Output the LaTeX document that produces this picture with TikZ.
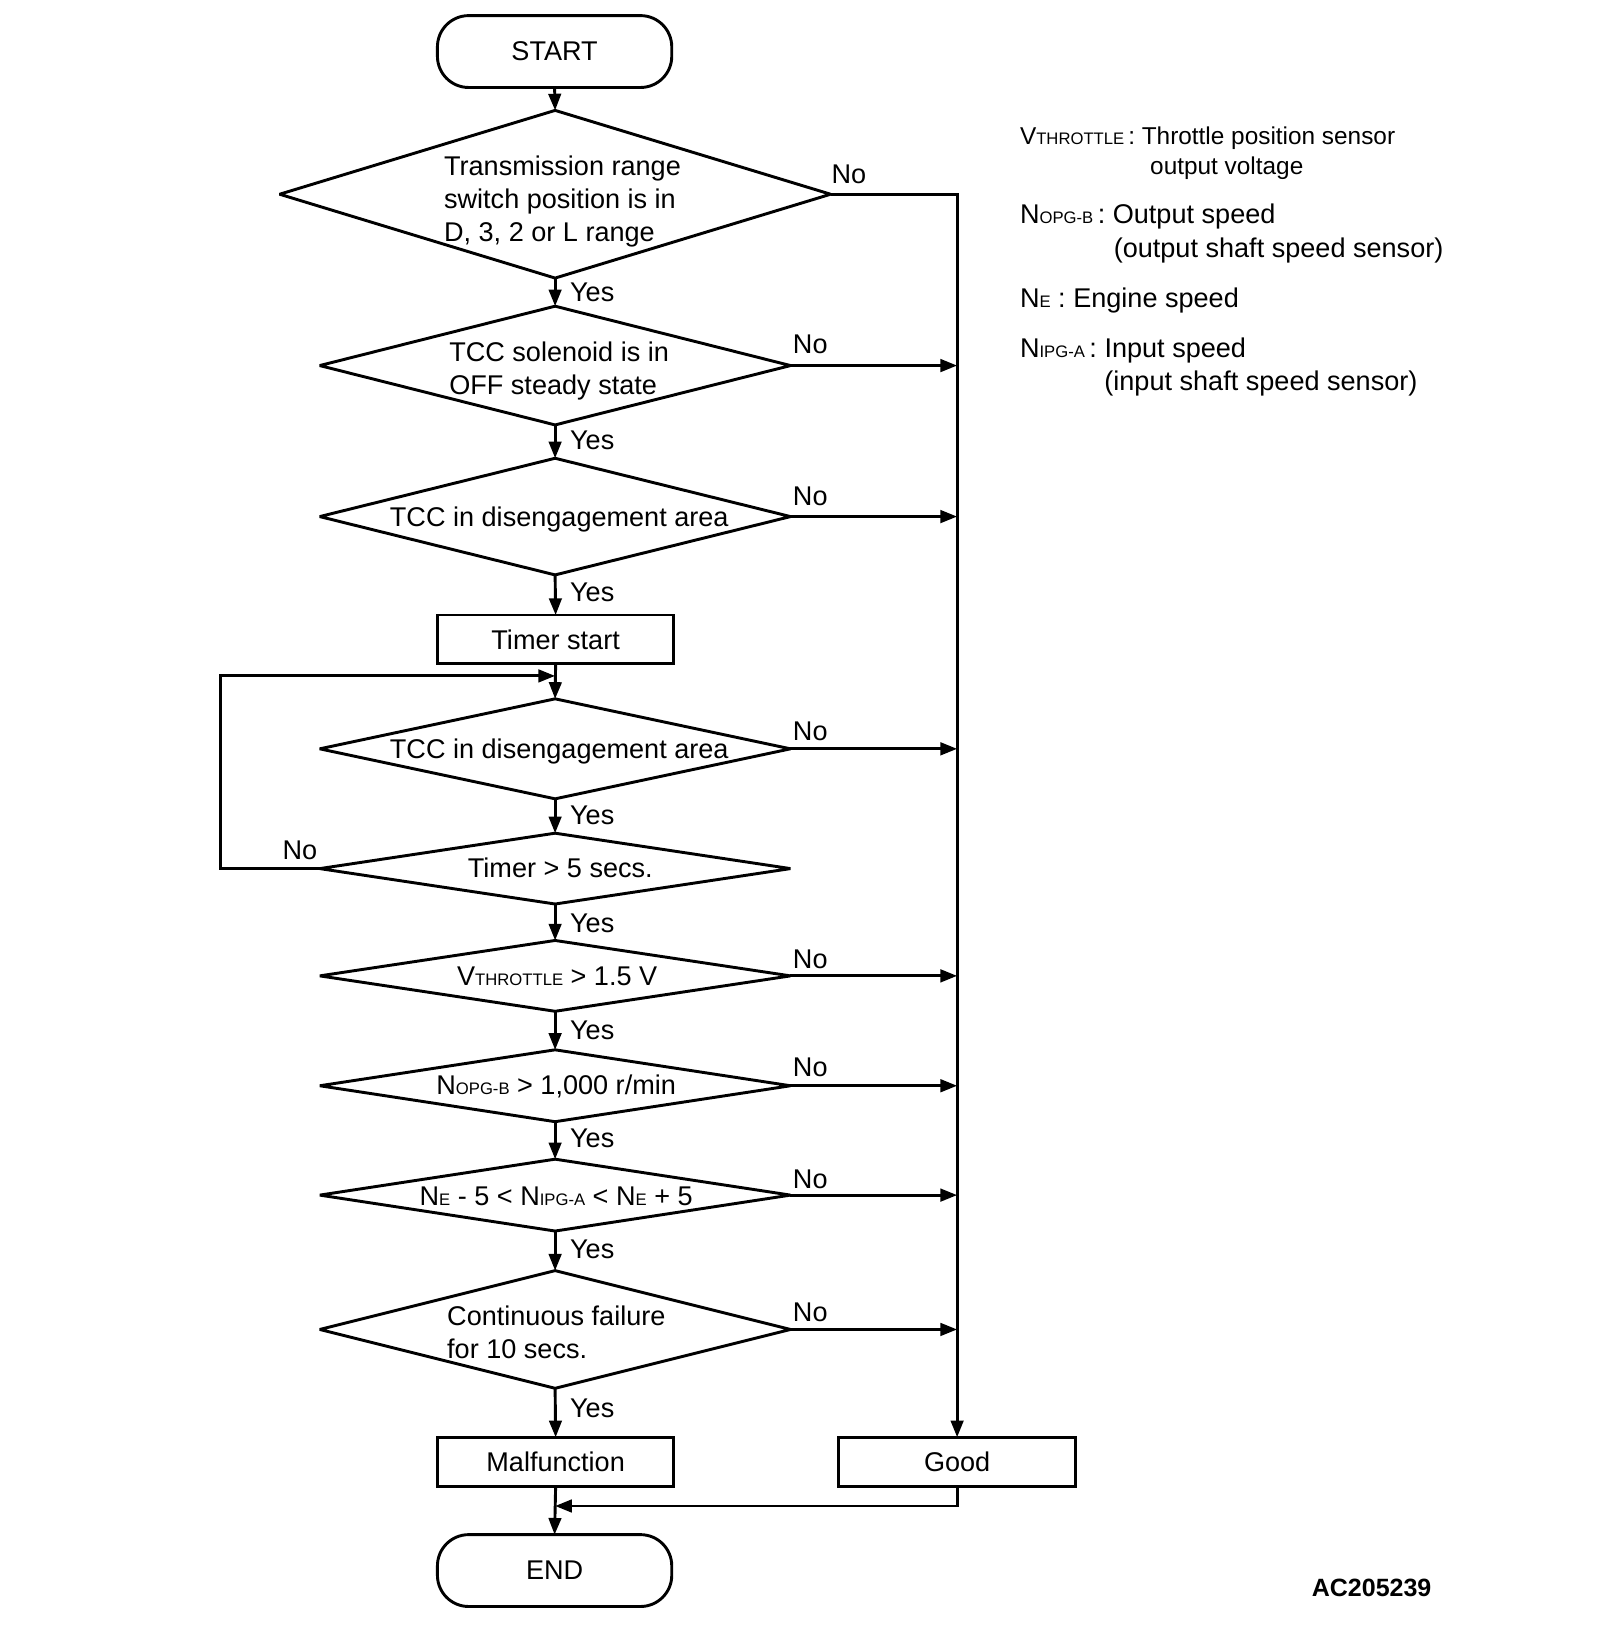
\documentclass[tikz,border=0pt]{standalone}
\usepackage{fontspec}
\setmainfont{Liberation Sans}
\usetikzlibrary{shapes.geometric,arrows.meta,calc}
\newcommand{\smc}[1]{{\fontsize{8}{9}\selectfont #1}}
\begin{document}
\begin{tikzpicture}[x=0.5pt,y=-0.5pt, line width=1.4pt,
  >={Triangle[length=8pt,width=6pt]},
  dia/.style={draw, shape=diamond, inner sep=0pt, outer sep=0pt, line join=bevel},
  txt/.style={font=\fontsize{13}{16}\selectfont, inner sep=0pt, align=left},
  box/.style={draw, rectangle, minimum width=113.5pt, minimum height=23.5pt, inner sep=0pt, outer sep=0pt, font=\fontsize{13}{16}\selectfont},
  term/.style={draw, rectangle, rounded corners=15pt, minimum width=112.5pt, minimum height=34.5pt, inner sep=0pt, outer sep=0pt, font=\fontsize{13}{16}\selectfont},
  lbl/.style={font=\fontsize{13}{16}\selectfont, inner sep=0pt},
  leg/.style={font=\fontsize{13}{16}\selectfont, inner sep=0pt, anchor=base west},
  legs/.style={font=\fontsize{11.7}{14}\selectfont, inner sep=0pt, anchor=base west}
]
\useasboundingbox (0,0) rectangle (1536,1567);

% terminals and boxes
\node[term] (start) at (532.5,49.5) {START};
\node[box] (timer) at (533.5,614) {Timer start};
\node[box] (malf) at (533.5,1403.5) {Malfunction};
\node[box] (good) at (919,1403.5) {Good};
\node[term] (end) at (532.5,1508) {END};

% diamonds
\node[dia, minimum width=264.5pt, minimum height=80.5pt] (d1) at (533,186.5) {};
\node[dia, minimum width=226pt, minimum height=57pt] (d2) at (533,351) {};
\node[dia, minimum width=226pt, minimum height=56pt] (d3) at (533,496) {};
\node[dia, minimum width=226pt, minimum height=48pt] (d4) at (533,719) {};
\node[dia, minimum width=226pt, minimum height=34pt] (d5) at (533,834) {};
\node[dia, minimum width=226pt, minimum height=34pt] (d6) at (533,937) {};
\node[dia, minimum width=226pt, minimum height=34.5pt] (d7) at (533,1042.5) {};
\node[dia, minimum width=226pt, minimum height=34.5pt] (d8) at (533,1147.5) {};
\node[dia, minimum width=226pt, minimum height=56.5pt] (d9) at (533,1276.5) {};

% diamond texts
\node[txt, anchor=north west] (t1) at (425,148) {Transmission range\\switch position is in\\D, 3, 2 or L range};
\node[txt, anchor=north west] (t2) at (430,327) {TCC solenoid is in\\OFF steady state};
\node[txt, anchor=base] (t3) at (537,506) {TCC in disengagement area};
\node[txt, anchor=base] (t4) at (537,728) {TCC in disengagement area};
\node[txt, anchor=base] (t5) at (538,843) {Timer > 5 secs.};
\node[txt, anchor=base] (t6) at (535,946) {V\smc{THROTTLE} > 1.5 V};
\node[txt, anchor=base] (t7) at (534,1051) {N\smc{OPG-B} > 1,000 r/min};
\node[txt, anchor=base] (t8) at (534,1157) {N\smc{E} - 5 < N\smc{IPG-A} < N\smc{E} + 5};
\node[txt, anchor=north west] (t9) at (428,1252) {Continuous failure\\for 10 secs.};

% main flow
\draw[->] (start.south) -- (d1.north);
\draw[->] (d1.south) -- (d2.north);
\draw[->] (d2.south) -- (d3.north);
\draw[->] (d3.south) -- (timer.north);
\draw[->] (timer.south) -- (d4.north);
\draw[->] (d4.south) -- (d5.north);
\draw[->] (d5.south) -- (d6.north);
\draw[->] (d6.south) -- (d7.north);
\draw[->] (d7.south) -- (d8.north);
\draw[->] (d8.south) -- (d9.north);
\draw[->] (d9.south) -- (malf.north);
\draw[->] (malf.south) -- (end.north);

% No branch to Good
\draw[->] (d1.east) -- (d1.east -| good.north) -- (good.north);
\draw[->] (d2.east) -- (d2.east -| good.north);
\draw[->] (d3.east) -- (d3.east -| good.north);
\draw[->] (d4.east) -- (d4.east -| good.north);
\draw[->] (d6.east) -- (d6.east -| good.north);
\draw[->] (d7.east) -- (d7.east -| good.north);
\draw[->] (d8.east) -- (d8.east -| good.north);
\draw[->] (d9.east) -- (d9.east -| good.north);

% loop back
\coordinate (lpin) at (533,649);
\coordinate (lpl) at (212,834);
\draw[->] (d5.west) -- (lpl) |- (lpin);

% Good to END
\coordinate (mj) at (533,1446);
\draw[->] (good.south) |- (mj);

% Yes labels
\foreach \n/\y in {y1/281,y2/423,y3/569,y4/783,y5/887,y6/989,y7/1093,y8/1200,y9/1352}
  \node[lbl, anchor=west] (\n) at (546,\y) {Yes};
% No labels
\node[lbl] (n1) at (815,167) {No};
\foreach \n/\y in {n2/331,n3/477,n4/702,n6/921,n7/1025,n8/1132,n9/1260}
  \node[lbl] (\n) at (778,\y) {No};
\node[lbl] (n5) at (288,816) {No};

% legend
\node[legs] (l1) at (978,139) {V\smc{THROTTLE}\,: Throttle position sensor};
\node[legs] (l1b) at (1103,168) {output voltage};
\node[leg] (l2) at (978,215) {N\smc{OPG-B}\,: Output speed};
\node[leg] (l2b) at (1068,247) {(output shaft speed sensor)};
\node[leg] (l3) at (978,295) {N\smc{E} : Engine speed};
\node[leg] (l4) at (978,343) {N\smc{IPG-A}\,: Input speed};
\node[leg] (l4b) at (1059,375) {(input shaft speed sensor)};

\node[font=\bfseries\fontsize{12}{14}\selectfont, inner sep=0pt] (code) at (1317,1525) {AC205239};
\end{tikzpicture}
\end{document}
